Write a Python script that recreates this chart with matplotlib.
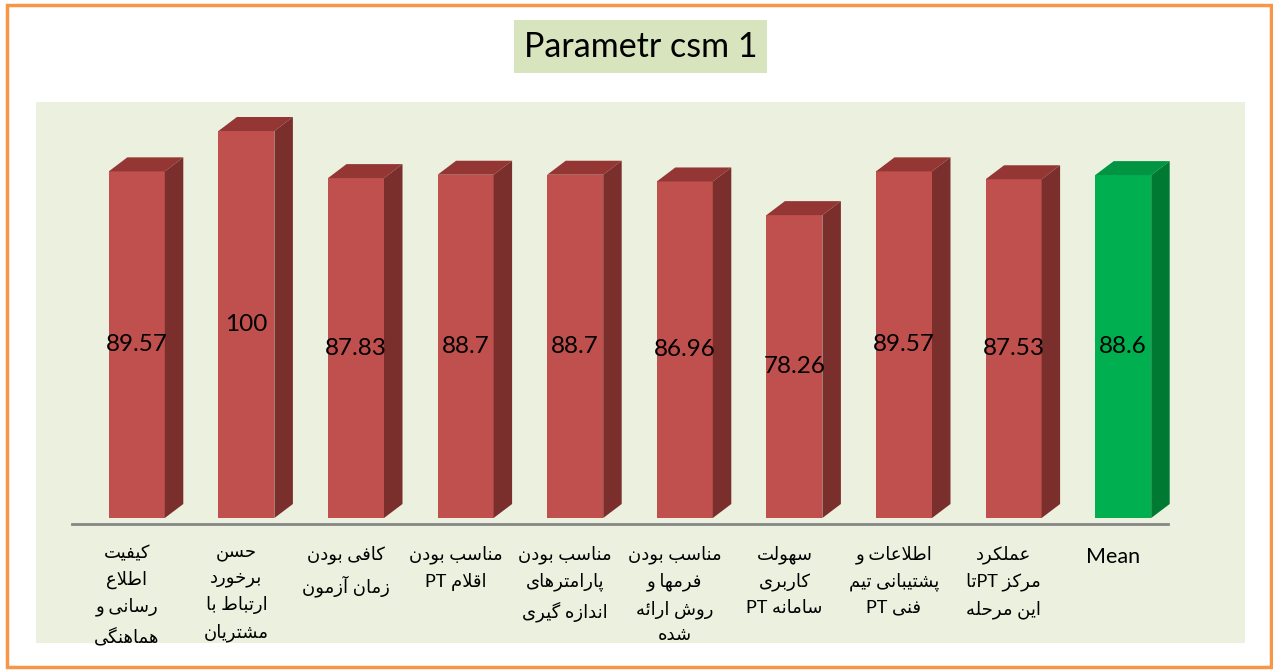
import re
import matplotlib
matplotlib.use("Agg")
import matplotlib.pyplot as plt
from matplotlib.patches import Rectangle, Polygon

# data
categories = [
    "کیفیت\nاطلاع\nرسانی و\nهماهنگی",
    "حسن\nبرخورد\nارتباط با\nمشتریان",
    "کافی بودن\nزمان آزمون",
    "مناسب بودن\nاقلام PT",
    "مناسب بودن\nپارامترهای\nاندازه گیری",
    "مناسب بودن\nفرمها و\nروش ارائه\nشده",
    "سهولت\nکاربری\nسامانه PT",
    "اطلاعات و\nپشتیبانی تیم\nفنی PT",
    "عملکرد\nمرکز PTتا\nاین مرحله",
    "Mean",
]
values = [89.57, 100, 87.83, 88.7, 88.7, 86.96, 78.26, 89.57, 87.53, 88.6]
value_labels = ["89.57", "100", "87.83", "88.7", "88.7", "86.96", "78.26", "89.57", "87.53", "88.6"]
is_mean = [False] * 9 + [True]
title = "Parametr csm 1"

# arabic presentation forms: isolated, final, initial, medial
FORMS = {
    'ا': ('\uFE8D', '\uFE8E', None, None),
    'آ': ('\uFE81', '\uFE82', None, None),
    'ب': ('\uFE8F', '\uFE90', '\uFE91', '\uFE92'),
    'پ': ('\uFB56', '\uFB57', '\uFB58', '\uFB59'),
    'ت': ('\uFE95', '\uFE96', '\uFE97', '\uFE98'),
    'ث': ('\uFE99', '\uFE9A', '\uFE9B', '\uFE9C'),
    'ج': ('\uFE9D', '\uFE9E', '\uFE9F', '\uFEA0'),
    'چ': ('\uFB7A', '\uFB7B', '\uFB7C', '\uFB7D'),
    'ح': ('\uFEA1', '\uFEA2', '\uFEA3', '\uFEA4'),
    'خ': ('\uFEA5', '\uFEA6', '\uFEA7', '\uFEA8'),
    'د': ('\uFEA9', '\uFEAA', None, None),
    'ذ': ('\uFEAB', '\uFEAC', None, None),
    'ر': ('\uFEAD', '\uFEAE', None, None),
    'ز': ('\uFEAF', '\uFEB0', None, None),
    'ژ': ('\uFB8A', '\uFB8B', None, None),
    'س': ('\uFEB1', '\uFEB2', '\uFEB3', '\uFEB4'),
    'ش': ('\uFEB5', '\uFEB6', '\uFEB7', '\uFEB8'),
    'ص': ('\uFEB9', '\uFEBA', '\uFEBB', '\uFEBC'),
    'ض': ('\uFEBD', '\uFEBE', '\uFEBF', '\uFEC0'),
    'ط': ('\uFEC1', '\uFEC2', '\uFEC3', '\uFEC4'),
    'ظ': ('\uFEC5', '\uFEC6', '\uFEC7', '\uFEC8'),
    'ع': ('\uFEC9', '\uFECA', '\uFECB', '\uFECC'),
    'غ': ('\uFECD', '\uFECE', '\uFECF', '\uFED0'),
    'ف': ('\uFED1', '\uFED2', '\uFED3', '\uFED4'),
    'ق': ('\uFED5', '\uFED6', '\uFED7', '\uFED8'),
    'ک': ('\uFB8E', '\uFB8F', '\uFB90', '\uFB91'),
    'ك': ('\uFB8E', '\uFB8F', '\uFB90', '\uFB91'),
    'گ': ('\uFB92', '\uFB93', '\uFB94', '\uFB95'),
    'ل': ('\uFEDD', '\uFEDE', '\uFEDF', '\uFEE0'),
    'م': ('\uFEE1', '\uFEE2', '\uFEE3', '\uFEE4'),
    'ن': ('\uFEE5', '\uFEE6', '\uFEE7', '\uFEE8'),
    'ه': ('\uFEE9', '\uFEEA', '\uFEEB', '\uFEEC'),
    'و': ('\uFEED', '\uFEEE', None, None),
    'ی': ('\uFBFC', '\uFBFD', '\uFBFE', '\uFBFF'),
    'ي': ('\uFBFC', '\uFBFD', '\uFBFE', '\uFBFF'),
    'ئ': ('\uFE89', '\uFE8A', '\uFE8B', '\uFE8C'),
}
LAM_ALEF = {'ا': ('\uFEFB', '\uFEFC'), 'آ': ('\uFEF5', '\uFEF6')}


def shape(word):
    out = []
    prev_joins = False
    i = 0
    while i < len(word):
        c = word[i]
        nxt = word[i + 1] if i + 1 < len(word) else None
        if c == 'ل' and nxt in LAM_ALEF:
            iso, fin = LAM_ALEF[nxt]
            out.append(fin if prev_joins else iso)
            prev_joins = False
            i += 2
            continue
        if c not in FORMS:
            out.append(c)
            prev_joins = False
            i += 1
            continue
        iso, fin, ini, med = FORMS[c]
        next_ok = ini is not None and nxt is not None and nxt in FORMS
        if prev_joins and next_ok:
            g = med
        elif prev_joins:
            g = fin
        elif next_ok:
            g = ini
        else:
            g = iso
        out.append(g)
        prev_joins = next_ok
        i += 1
    return ''.join(out)


def visual(text):
    # rtl paragraph: shape, reverse the whole line, then put latin runs back in order
    lines = []
    for line in text.split('\n'):
        s = shape(line)[::-1]
        s = re.sub(r'[A-Za-z0-9.]+', lambda m: m.group(0)[::-1], s)
        lines.append(s)
    return '\n'.join(lines)


W, H = 1273, 670
fig = plt.figure(figsize=(W / 100, H / 100), dpi=100)


def fx(px):
    return px / W


def fy(py):
    return 1 - py / H


# plot area background, outer border, title box
fig.patches.append(Rectangle((fx(36), fy(643)), fx(1245) - fx(36), fy(102) - fy(643),
                             transform=fig.transFigure, facecolor='#EBF1DE', edgecolor='none', zorder=-2))
fig.patches.append(Rectangle((fx(7), fy(667)), fx(1271) - fx(7), fy(4.5) - fy(667),
                             transform=fig.transFigure, facecolor='none', edgecolor='#F79646', lw=2.5, zorder=-1))
fig.patches.append(Rectangle((fx(514), fy(73)), fx(767) - fx(514), fy(20) - fy(73),
                             transform=fig.transFigure, facecolor='#D7E4BD', edgecolor='none', zorder=-1))
fig.text(fx(640.5), fy(47), title, ha='center', va='center', fontsize=24.5, family='Lato')

ax = fig.add_axes([fx(72), fy(524), fx(1168) - fx(72), fy(92.3) - fy(524)])
ax.set_zorder(1)
ax.set_xlim(-0.5, 9.5)
ax.set_ylim(-1.55, 110)
ax.patch.set_visible(False)
for s in ['top', 'right', 'left']:
    ax.spines[s].set_visible(False)
ax.spines['bottom'].set_color('#868686')
ax.spines['bottom'].set_linewidth(2)
ax.set_xticks([])
ax.set_yticks([])

# pixel scale of the axes, used for the 3d depth of the bars
px_x = 1096 / 10.0
px_y = 431.7 / 111.55
w = 56 / px_x
off = 10 / px_x
dx = 18.5 / px_x
dy = 14 / px_y

front = ['#00B050' if m else '#C0504D' for m in is_mean]
top = ['#009443' if m else '#943634' for m in is_mean]
side = ['#007A33' if m else '#7A2F2D' for m in is_mean]

xs = [i + off for i in range(len(values))]
ax.bar(xs, values, width=w, color=front, edgecolor='none', zorder=2)
for i, v in enumerate(values):
    x0 = xs[i] - w / 2
    x1 = xs[i] + w / 2
    ax.add_patch(Polygon([(x0, v), (x1, v), (x1 + dx, v + dy), (x0 + dx, v + dy)],
                         closed=True, facecolor=top[i], edgecolor='none', zorder=2, clip_on=False))
    ax.add_patch(Polygon([(x1, 0), (x1, v), (x1 + dx, v + dy), (x1 + dx, dy)],
                         closed=True, facecolor=side[i], edgecolor='none', zorder=2, clip_on=False))
    ax.text(xs[i], v / 2, value_labels[i], ha='center', va='center', fontsize=17.5,
            family='Lato', zorder=3)

for i, c in enumerate(categories):
    if c == "Mean":
        ax.text(i, -7.5, c, ha='center', va='top', fontsize=15.5, family='Lato', clip_on=False)
    else:
        ax.text(i, -7.0, visual(c), ha='center', va='top', fontsize=13,
                family=['Lato', 'DejaVu Sans'], linespacing=1.65, multialignment='center',
                clip_on=False)

fig.savefig('out.png', dpi=100)
